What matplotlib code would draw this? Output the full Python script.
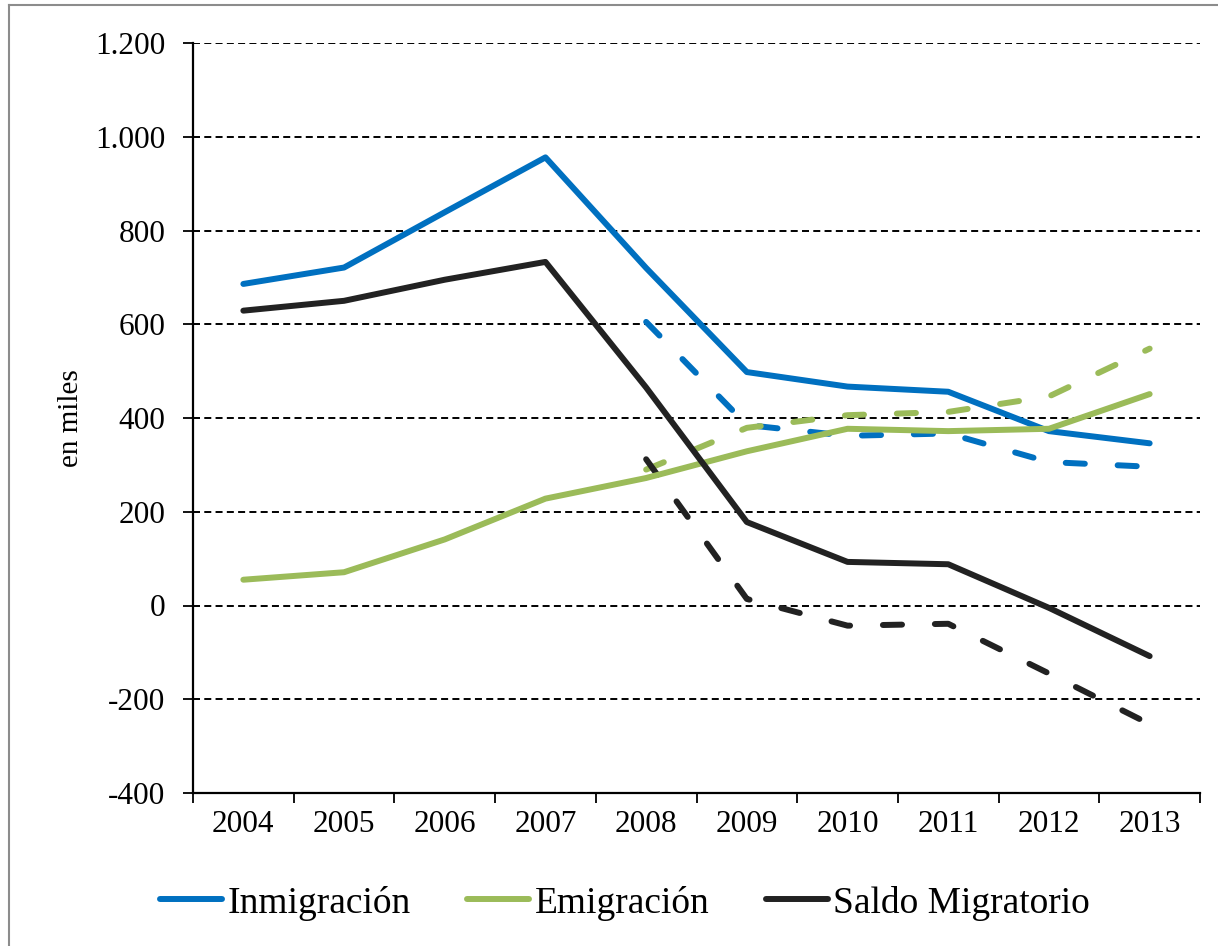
import matplotlib
matplotlib.use("Agg")
import matplotlib.pyplot as plt
from matplotlib.lines import Line2D

years = ["2004", "2005", "2006", "2007", "2008", "2009", "2010", "2011", "2012", "2013"]
inmigracion = [686, 721, 839, 956, 720, 498, 467, 456, 372, 346]
emigracion = [55, 71, 141, 228, 272, 329, 377, 372, 377, 451]
saldo = [629, 650, 695, 733, 465, 178, 93, 88, -5, -108]

years_rev = ["2008", "2009", "2010", "2011", "2012", "2013"]
inmigracion_rev = [605, 385, 362, 367, 306, 296]
emigracion_rev = [290, 379, 406, 413, 446, 548]
saldo_rev = [312, 14, -43, -39, -145, -253]

yticks = [-400, -200, 0, 200, 400, 600, 800, 1000, 1200]
ytick_labels = ["-400", "-200", "0", "200", "400", "600", "800", "1.000", "1.200"]

BLUE = "#0070C0"
GREEN = "#9BBB59"
BLACK = "#222222"

plt.rcParams["font.family"] = ["Liberation Serif", "DejaVu Serif"]

fig = plt.figure(figsize=(12.18, 9.46), dpi=100)
ax = fig.add_axes([193 / 1218, 1 - 793 / 946, (1200 - 193) / 1218, (793 - 43) / 946])

x = list(range(len(years)))
x_rev = [years.index(y) for y in years_rev]

lw = 4.3
dash = (0, (3.2, 5.5))

# gridlines
for v in yticks[1:]:
    ax.axhline(v, color="black", lw=1.4, linestyle=(0, (3.6, 2.2)), zorder=1)

ax.plot(x_rev, inmigracion_rev, color=BLUE, lw=lw, linestyle=dash, dash_capstyle="round", zorder=3)
ax.plot(x_rev, emigracion_rev, color=GREEN, lw=lw, linestyle=dash, dash_capstyle="round", zorder=3)
ax.plot(x_rev, saldo_rev, color=BLACK, lw=lw, linestyle=dash, dash_capstyle="round", zorder=3)

ax.plot(x, inmigracion, color=BLUE, lw=lw, solid_capstyle="round", zorder=4)
ax.plot(x, emigracion, color=GREEN, lw=lw, solid_capstyle="round", zorder=4)
ax.plot(x, saldo, color=BLACK, lw=lw, solid_capstyle="round", zorder=4)

ax.set_xlim(-0.5, len(years) - 0.5)
ax.set_ylim(-400, 1200)
ax.set_yticks(yticks)
ax.set_yticklabels(ytick_labels, fontsize=22.5)
ax.set_xticks([i - 0.5 for i in range(len(years) + 1)])
ax.set_xticklabels([])
ax.set_xticks(x, minor=True)
ax.set_xticklabels(years, minor=True, fontsize=22.5)
ax.tick_params(axis="x", which="major", length=7, width=1.3, direction="out", color="black")
ax.tick_params(axis="x", which="minor", length=0, pad=12)
ax.tick_params(axis="y", length=7, width=1.3, direction="out", pad=13)

for s in ["top", "right"]:
    ax.spines[s].set_visible(False)
for s in ["left", "bottom"]:
    ax.spines[s].set_linewidth(1.6)
    ax.spines[s].set_color("black")

ax.set_ylabel("en miles", fontsize=21, labelpad=8)

handles = [Line2D([], [], color=BLUE, lw=lw, solid_capstyle="round"),
           Line2D([], [], color=GREEN, lw=lw, solid_capstyle="round"),
           Line2D([], [], color=BLACK, lw=lw, solid_capstyle="round")]
fig.legend(handles, ["Inmigración", "Emigración", "Saldo Migratorio"],
           loc="center", bbox_to_anchor=(625 / 1218, 1 - 903 / 946), ncol=3,
           frameon=False, fontsize=27, handlelength=1.65, handletextpad=0.15,
           columnspacing=1.5)

# outer frame (top and left edges visible)
fig.add_artist(Line2D([9 / 1218, 9 / 1218], [0, 1 - 5 / 946], transform=fig.transFigure,
                      color="#8c8c8c", lw=1.5))
fig.add_artist(Line2D([9 / 1218, 1], [1 - 5 / 946, 1 - 5 / 946], transform=fig.transFigure,
                      color="#8c8c8c", lw=1.5))

fig.savefig("out.png", dpi=100)
